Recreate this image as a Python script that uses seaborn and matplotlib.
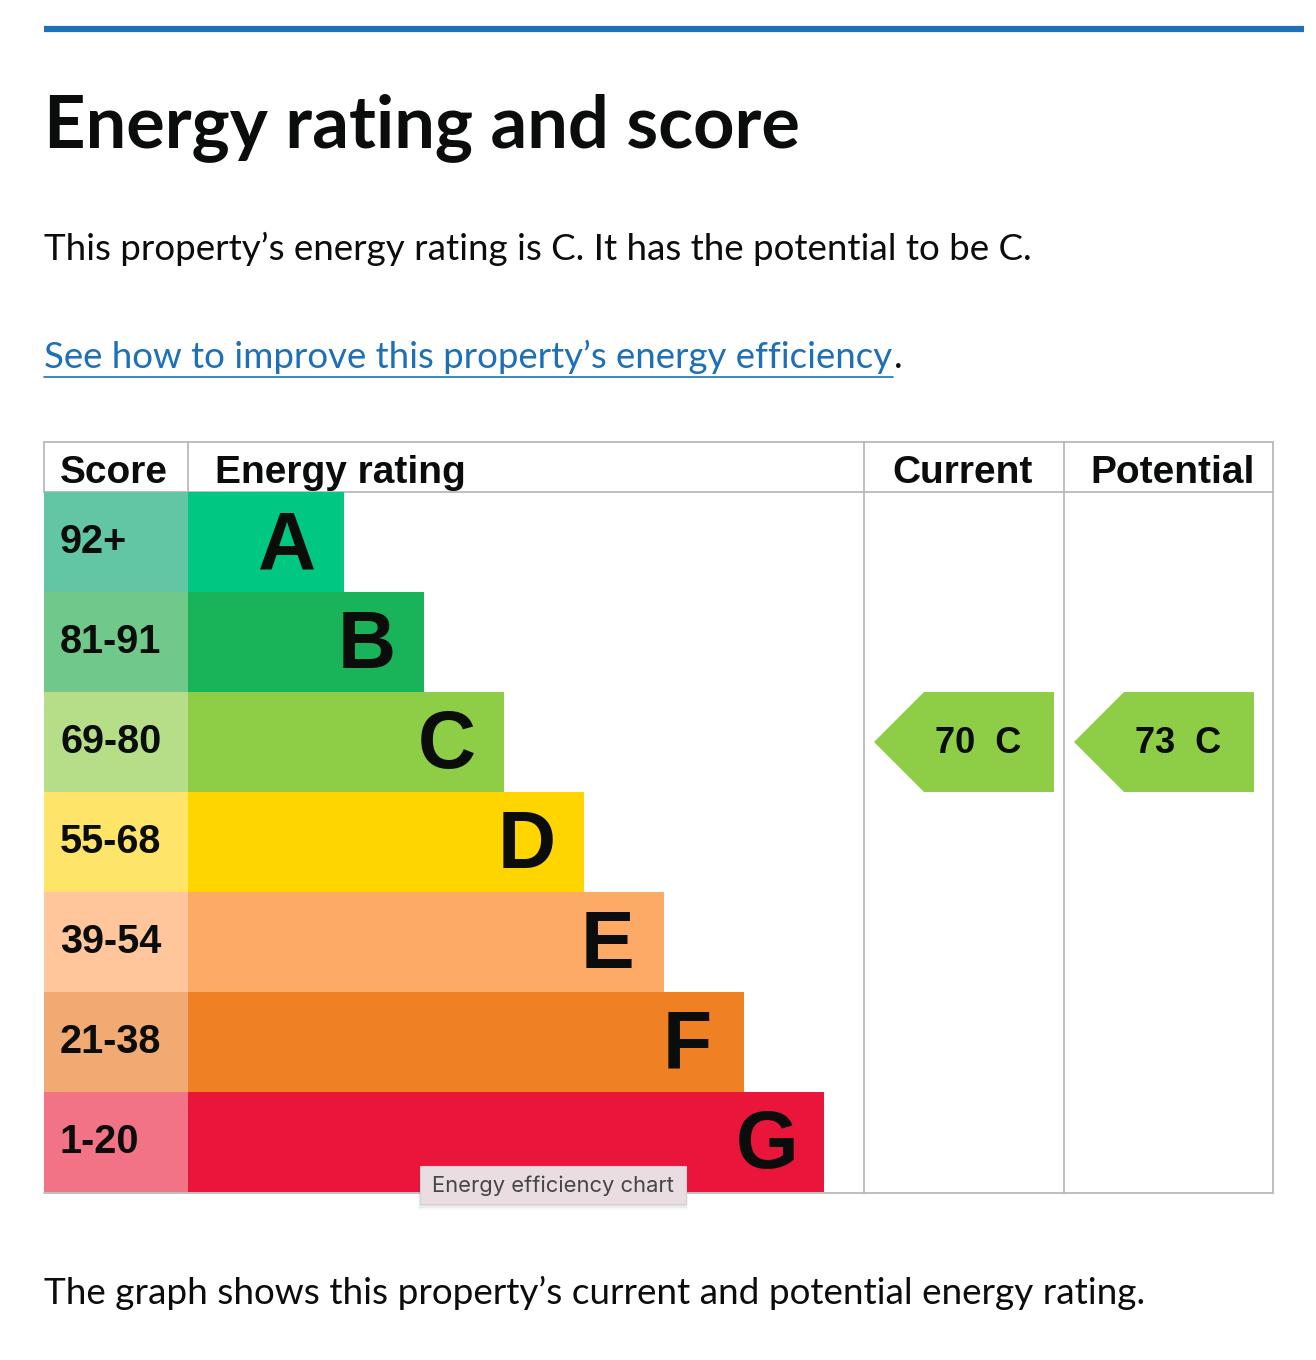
import matplotlib
matplotlib.use("Agg")
import matplotlib.pyplot as plt
import seaborn as sns
import pandas as pd
from matplotlib.patches import Polygon, Rectangle

# -------------------------------
# Data
# -------------------------------
bands = ["A", "B", "C", "D", "E", "F", "G"]
score_ranges = ["92+", "81-91", "69-80", "55-68", "39-54", "21-38", "1-20"]
band_lengths = [156, 236, 316, 396, 476, 556, 636]  # bar length, px of the rating column
band_colors = ["#00c781", "#19b459", "#8dce46", "#ffd500", "#fcaa65", "#ef8023", "#e9153b"]
score_colors = ["#62c6a4", "#70c98b", "#b6de88", "#ffe46a", "#ffc69b", "#f2aa73", "#f27386"]
column_titles = ["Score", "Energy rating", "Current", "Potential"]

current_score, current_band = 70, "C"
potential_score, potential_band = 73, "C"

title = "Energy rating and score"
intro = "This property\u2019s energy rating is C. It has the potential to be C."
link_text = "See how to improve this property\u2019s energy efficiency"
footer = "The graph shows this property\u2019s current and potential energy rating."
tooltip = "Energy efficiency chart"

df = pd.DataFrame({"band": bands, "score": score_ranges,
                   "length": band_lengths, "full": [1] * len(bands)})

# -------------------------------
# Figure setup (pixel based layout)
# -------------------------------
W, H = 1316, 1360
TEXT = "#0b0c0c"
BLUE = "#1d70b8"
GRID = "#b1b4b6"
BODY_FONT = ["Lato", "DejaVu Sans"]
TABLE_FONT = ["Liberation Sans", "DejaVu Sans"]

sns.set_theme(style="white")
plt.rcParams["font.family"] = BODY_FONT

fig = plt.figure(figsize=(W / 100, H / 100), dpi=100)
fig.patch.set_facecolor("white")
bg = fig.add_axes([0, 0, 1, 1])
bg.set_xlim(0, W)
bg.set_ylim(H, 0)
bg.axis("off")
renderer = fig.canvas.get_renderer()


def fit_text(ax, x, y, s, width, **kw):
    # put text then scale its font so it spans `width` pixels
    t = ax.text(x, y, s, **kw)
    for _ in range(2):
        w = t.get_window_extent(renderer=renderer).width
        t.set_fontsize(t.get_fontsize() * width / w)
    return t


# header rule
bg.plot([44, 1304], [29, 29], color=BLUE, lw=4.5, solid_capstyle="butt")

fit_text(bg, 44, 147, title, 756, fontsize=52, fontweight="bold",
         color=TEXT, va="baseline", family=BODY_FONT)
fit_text(bg, 44, 260, intro, 988, fontsize=27, color=TEXT,
         va="baseline", family=BODY_FONT)
lt = fit_text(bg, 44, 368, link_text, 849, fontsize=27, color=BLUE,
              va="baseline", family=BODY_FONT)
bg.plot([44, 893], [377, 377], color=BLUE, lw=1.2)
bg.text(894, 368, ".", fontsize=lt.get_fontsize(), color=TEXT,
        va="baseline", family=BODY_FONT)
fit_text(bg, 44, 1304, footer, 1101, fontsize=27, color=TEXT,
         va="baseline", family=BODY_FONT)

# -------------------------------
# Table grid + headers
# -------------------------------
for x in [44, 188]:
    bg.plot([x, x], [442, 492], color=GRID, lw=1.2)
for x in [864, 1064, 1273]:
    bg.plot([x, x], [442, 1193], color=GRID, lw=1.2)
for y in [442, 492, 1193]:
    bg.plot([44, 1273], [y, y], color=GRID, lw=1.2)

head_kw = dict(fontsize=28, fontweight="bold", color=TEXT, va="baseline", family=TABLE_FONT)
bg.text(60, 483, column_titles[0], ha="left", **head_kw)
bg.text(215, 483, column_titles[1], ha="left", **head_kw)
bg.text(963, 483, column_titles[2], ha="center", **head_kw)
bg.text(1173, 483, column_titles[3], ha="center", **head_kw)

# -------------------------------
# Score column and rating bars
# -------------------------------
top, bottom = 492, 1192
ax_score = fig.add_axes([44 / W, 1 - bottom / H, 144 / W, (bottom - top) / H])
sns.barplot(data=df, y="band", x="full", hue="band", palette=score_colors,
            orient="h", width=1, saturation=1, linewidth=0, legend=False, ax=ax_score)
ax_score.set_xlim(0, 1)
ax_score.set_ylim(6.5, -0.5)
ax_score.axis("off")
for i, s in enumerate(score_ranges):
    ax_score.text(16 / 144, i + 0.11, s, fontsize=28.5, fontweight="bold",
                  color=TEXT, va="baseline", ha="left", family=TABLE_FONT)

ax_bars = fig.add_axes([188 / W, 1 - bottom / H, 676 / W, (bottom - top) / H])
sns.barplot(data=df, y="band", x="length", hue="band", palette=band_colors,
            orient="h", width=1, saturation=1, linewidth=0, legend=False, ax=ax_bars)
ax_bars.set_xlim(0, 676)
ax_bars.set_ylim(6.5, -0.5)
ax_bars.axis("off")
for i, (b, L) in enumerate(zip(bands, band_lengths)):
    ax_bars.text(L - 57, i + 0.26, b, fontsize=58, fontweight="bold",
                 color=TEXT, va="baseline", ha="center", family=TABLE_FONT)

# -------------------------------
# Current / potential arrows
# -------------------------------
for left, score, band in [(864, current_score, current_band),
                          (1064, potential_score, potential_band)]:
    ax = fig.add_axes([left / W, 1 - bottom / H, 200 / W, (bottom - top) / H])
    ax.set_xlim(0, 200)
    ax.set_ylim(6.5, -0.5)
    ax.axis("off")
    i = bands.index(band)
    ax.add_patch(Polygon([(10, i), (60, i - 0.5), (190, i - 0.5),
                          (190, i + 0.5), (60, i + 0.5)], closed=True,
                         facecolor=band_colors[i], edgecolor="none"))
    ax.text(114, i + 0.11, f"{score}  {band}", fontsize=26, fontweight="bold",
            color=TEXT, ha="center", va="baseline", family=TABLE_FONT)

# -------------------------------
# Tooltip overlay (own axes so it sits above the bars)
# -------------------------------
over = fig.add_axes([0, 0, 1, 1])
over.set_xlim(0, W)
over.set_ylim(H, 0)
over.axis("off")
over.patch.set_alpha(0)
for k, a in enumerate([0.05, 0.04, 0.03]):
    over.add_patch(Rectangle((420 - k, 1167 + k), 266 + 2 * k, 39 + k,
                             facecolor="#000000", alpha=a, edgecolor="none"))
over.add_patch(Rectangle((420, 1166), 266, 38, facecolor="#e9dde2",
                         edgecolor="#d8cfd3", lw=0.8))
fit_text(over, 432, 1192, tooltip, 241, fontsize=16, color="#454545",
         va="baseline", family=["Inter", "DejaVu Sans"])

fig.savefig("out.png", dpi=100, facecolor="white")
